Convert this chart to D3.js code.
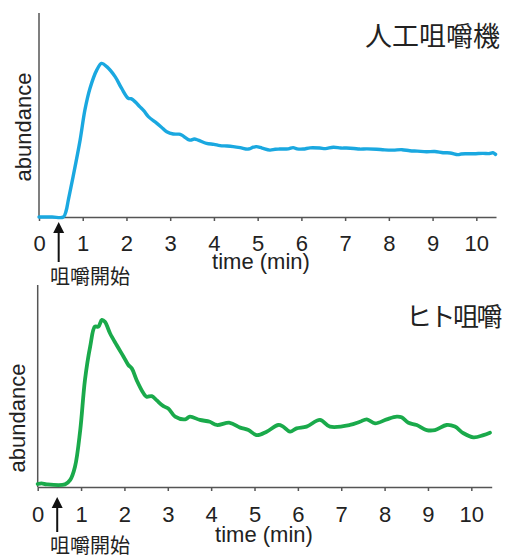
<!DOCTYPE html>
<html>
<head>
<meta charset="utf-8">
<script src="https://cdn.jsdelivr.net/npm/d3@7.9.0/dist/d3.min.js"></script>
<style>
  body { margin: 0; background: #fff; }
  svg { display: block; }
</style>
</head>
<body>
<svg id="chart" width="505" height="557"></svg>
<script>
// x axis ticks (minutes)
const xTicks = [0, 1, 2, 3, 4, 5, 6, 7, 8, 9, 10];
const startLabel = "咀嚼開始";
const startTime = 0.45;

// artificial chewing machine (blue)
const machineTime = [0, 0.3, 0.556, 0.62, 0.67, 0.78, 0.94, 1.05, 1.165, 1.32, 1.43, 1.55, 1.74, 1.89, 2.04, 2.1, 2.15, 2.31, 2.4, 2.5, 2.69, 2.8, 2.92, 3.07, 3.2, 3.26, 3.45, 3.55, 3.64, 3.83, 4.0, 4.14, 4.3, 4.44, 4.6, 4.78, 4.9, 4.97, 5.1, 5.28, 5.4, 5.5, 5.7, 5.81, 5.9, 6.04, 6.2, 6.42, 6.55, 6.73, 6.9, 7.03, 7.2, 7.33, 7.5, 7.72, 7.9, 8.1, 8.3, 8.48, 8.65, 8.86, 9.05, 9.24, 9.4, 9.58, 9.65, 9.77, 9.95, 10.15, 10.3, 10.38, 10.44];
const machineValue = [0, 0, 0, 3, 8.3, 19.8, 37.7, 52.5, 63, 72, 75.3, 73.7, 68.8, 63, 58.2, 58, 57.4, 54, 52, 49.2, 46, 44, 41.8, 40.7, 40.6, 40.2, 37.7, 38.2, 37.7, 36.1, 35.6, 35, 34.8, 34.5, 34.0, 33.3, 34.2, 34.5, 33.8, 32.8, 33.2, 33.3, 33.4, 34.0, 33.4, 33.3, 33.9, 33.8, 33.5, 34.2, 33.8, 33.8, 33.6, 33.3, 33.4, 33.2, 32.9, 32.8, 33.0, 32.5, 32.3, 32.0, 32.1, 31.5, 31.4, 30.6, 30.9, 31.0, 31.0, 31.2, 31.1, 31.5, 30.7];

// human chewing (green)
const humanTime = [0, 0.09, 0.21, 0.63, 0.75, 0.86, 0.98, 1.09, 1.21, 1.32, 1.40, 1.48, 1.55, 1.67, 1.82, 1.98, 2.09, 2.17, 2.28, 2.44, 2.51, 2.63, 2.74, 2.9, 3.01, 3.17, 3.4, 3.51, 3.74, 3.97, 4.13, 4.43, 4.67, 4.86, 5.05, 5.28, 5.55, 5.66, 5.82, 5.97, 6.2, 6.51, 6.74, 7.2, 7.43, 7.59, 7.78, 8.05, 8.28, 8.39, 8.55, 8.74, 8.97, 9.16, 9.43, 9.62, 9.82, 10.05, 10.28, 10.43];
const humanValue = [1.5, 1.8, 1.3, 1.3, 3.5, 10, 28, 53, 69.5, 79.4, 79.4, 82.7, 81.8, 76, 70.3, 64.5, 60.4, 58.7, 53, 46.4, 44.7, 45, 43, 40, 38.9, 34.8, 33.5, 34.8, 33.2, 32.3, 30.7, 31.8, 29.4, 28.2, 25.7, 27.4, 30.7, 29.9, 27.4, 29, 29.9, 33.2, 29.9, 30.7, 32.3, 33.5, 31.5, 33.5, 34.8, 34.5, 31.8, 30.7, 28.2, 28.2, 30.7, 29.9, 26.6, 24.6, 25.7, 26.9];

const panels = [
  { title: "人工咀嚼機", titleSize: 27, titleSpacing: 0, titleY: 46, time: machineTime, value: machineValue, color: "#1aa8e0", width: 3.4,
    x0: 39, x1: 496, xMax: 10.45, yBase: 217, yTop: 13, ylabX: 31, ylabY: 127, tickY: 251, timeY: 269, timeX: 261, arrowY: 222, arrowEnd: 262, startY: 284 },
  { title: "ヒト咀嚼", titleSize: 26, titleSpacing: -2.5, titleY: 326, time: humanTime, value: humanValue, color: "#1aaa4b", width: 3.8,
    x0: 37.7, x1: 491.7, xMax: 10.47, yBase: 487, yTop: 285, ylabX: 25, ylabY: 418, tickY: 522, timeY: 542, timeX: 264, arrowY: 497, arrowEnd: 532, startY: 553 }
];

const svg = d3.select("#chart");
const latin = "'Liberation Sans', Arial, sans-serif";
const cjk = "'Noto Sans CJK JP', sans-serif";

panels.forEach(p => {
  const x = d3.scaleLinear().domain([0, p.xMax]).range([p.x0, p.x1]);
  const y = d3.scaleLinear().domain([0, 100]).range([p.yBase, p.yTop]);
  const g = svg.append("g");

  // y axis (no ticks)
  g.append("line")
    .attr("x1", x(0)).attr("x2", x(0))
    .attr("y1", y(100)).attr("y2", y(0))
    .attr("stroke", "#555").attr("stroke-width", 1.5);

  // x axis
  const xAxis = d3.axisBottom(x).tickValues(xTicks).tickSize(4).tickSizeOuter(0).tickPadding(0);
  const ax = g.append("g").attr("transform", `translate(0,${p.yBase})`).call(xAxis);
  ax.select(".domain").attr("stroke", "#555").attr("stroke-width", 1.5);
  ax.selectAll(".tick line").attr("stroke", "#555").attr("stroke-width", 1.5);
  ax.selectAll(".tick text")
    .attr("y", p.tickY - p.yBase).attr("dy", 0)
    .attr("fill", "#222")
    .style("font-family", latin).style("font-size", "22px");

  g.append("text")
    .attr("x", p.timeX).attr("y", p.timeY)
    .attr("text-anchor", "middle")
    .attr("fill", "#222")
    .style("font-family", latin).style("font-size", "22px")
    .text("time (min)");

  g.append("text")
    .attr("transform", `translate(${p.ylabX},${p.ylabY}) rotate(-90)`)
    .attr("text-anchor", "middle")
    .attr("fill", "#222")
    .style("font-family", latin).style("font-size", "22px")
    .text("abundance");

  g.append("text")
    .attr("x", 500).attr("y", p.titleY)
    .attr("text-anchor", "end")
    .attr("fill", "#222")
    .style("font-family", cjk).style("font-size", p.titleSize + "px")
    .style("letter-spacing", p.titleSpacing + "px")
    .text(p.title);

  // data line
  const pts = p.time.map((t, i) => [t, p.value[i]]);
  g.append("path")
    .datum(pts)
    .attr("fill", "none")
    .attr("stroke", p.color)
    .attr("stroke-width", p.width)
    .attr("stroke-linejoin", "round")
    .attr("stroke-linecap", "round")
    .attr("d", d3.line().x(d => x(d[0])).y(d => y(d[1])).curve(d3.curveCatmullRom.alpha(0.5)));

  // chewing start arrow
  const ax0 = x(startTime);
  g.append("line")
    .attr("x1", ax0).attr("x2", ax0)
    .attr("y1", p.arrowY + 8).attr("y2", p.arrowEnd)
    .attr("stroke", "#111").attr("stroke-width", 2);
  g.append("path")
    .attr("d", `M${ax0},${p.arrowY} L${ax0 - 5.5},${p.arrowY + 11} L${ax0 + 5.5},${p.arrowY + 11} Z`)
    .attr("fill", "#111");

  g.append("text")
    .attr("x", 50).attr("y", p.startY)
    .attr("fill", "#222")
    .style("font-family", cjk).style("font-size", "20px")
    .text(startLabel);
});
</script>
</body>
</html>
